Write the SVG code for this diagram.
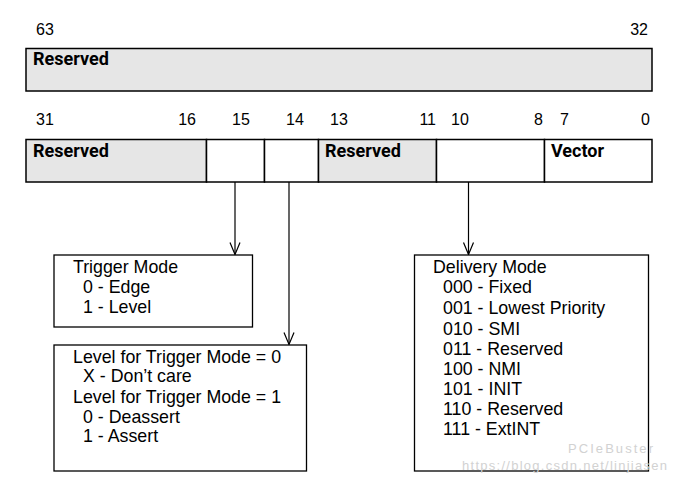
<svg xmlns="http://www.w3.org/2000/svg" width="674" height="482" viewBox="0 0 674 482">
<style>
.bg{fill:#ffffff}
.reg{stroke:#000;stroke-width:1.5}
.gray{fill:#e6e6e6}
.white{fill:#ffffff}
.num{font-family:"Liberation Sans",Arial,sans-serif;font-size:16px;fill:#000}
.lbl{font-family:Roboto,"Liberation Sans",sans-serif;font-weight:bold;font-size:18px;fill:#000}
.box{fill:#fff;stroke:#000;stroke-width:1.3}
.txt{font-family:"Liberation Sans",Arial,sans-serif;font-size:17.8px;fill:#000}
.conn{stroke:#000;stroke-width:1.2;fill:none;marker-end:url(#arr)}
.wm{font-family:"Liberation Sans",Arial,sans-serif;fill:#d2d2d2}
</style>
<defs>
<marker id="arr" markerWidth="14" markerHeight="16" refX="7" refY="14" orient="0" markerUnits="userSpaceOnUse">
<path d="M2,2 L7,14 L12,2" fill="none" stroke="#000" stroke-width="1.2"/>
</marker>
</defs>
<rect class="bg" x="0" y="0" width="674" height="482"/>

<g id="bits-high">
<text class="num" x="36" y="35">63</text>
<text class="num" x="648" y="35" text-anchor="end">32</text>
</g>
<g id="reg-high">
<rect class="gray reg" x="26" y="48.5" width="626" height="42.5"/>
<text class="lbl" x="33" y="65">Reserved</text>
</g>

<g id="bits-low">
<text class="num" x="36" y="125">31</text>
<text class="num" x="196" y="125" text-anchor="end">16</text>
<text class="num" x="232" y="125">15</text>
<text class="num" x="286" y="125">14</text>
<text class="num" x="330" y="125">13</text>
<text class="num" x="436" y="125" text-anchor="end">11</text>
<text class="num" x="451" y="125">10</text>
<text class="num" x="543" y="125" text-anchor="end">8</text>
<text class="num" x="560" y="125">7</text>
<text class="num" x="650" y="125" text-anchor="end">0</text>
</g>

<g id="field-reserved-31-16">
<rect class="gray reg" x="26" y="139.5" width="180.5" height="42.5"/>
<text class="lbl" x="33" y="157">Reserved</text>
</g>
<g id="field-15">
<rect class="white reg" x="206.5" y="139.5" width="58" height="42.5"/>
</g>
<g id="field-14">
<rect class="white reg" x="264.5" y="139.5" width="54" height="42.5"/>
</g>
<g id="field-reserved-13-11">
<rect class="gray reg" x="318.5" y="139.5" width="118" height="42.5"/>
<text class="lbl" x="325" y="157">Reserved</text>
</g>
<g id="field-10-8">
<rect class="white reg" x="436.5" y="139.5" width="108" height="42.5"/>
</g>
<g id="field-vector">
<rect class="white reg" x="544.5" y="139.5" width="107.5" height="42.5"/>
<text class="lbl" x="551" y="157">Vector</text>
</g>

<g id="connectors">
<line class="conn" x1="235" y1="182" x2="235" y2="254.5"/>
<line class="conn" x1="289" y1="182" x2="289" y2="344.5"/>
<line class="conn" x1="468.5" y1="182" x2="468.5" y2="254.5"/>
</g>

<g id="trigger-mode">
<rect class="box" x="54" y="255" width="198.5" height="72"/>
<text class="txt" x="73" y="273">Trigger Mode</text>
<text class="txt" x="83" y="293">0 - Edge</text>
<text class="txt" x="83" y="313">1 - Level</text>
</g>

<g id="level">
<rect class="box" x="54" y="345" width="252.5" height="126"/>
<text class="txt" x="73" y="363">Level for Trigger Mode = 0</text>
<text class="txt" x="83" y="382">X - Don’t care</text>
<text class="txt" x="73" y="403">Level for Trigger Mode = 1</text>
<text class="txt" x="83" y="423">0 - Deassert</text>
<text class="txt" x="83" y="442">1 - Assert</text>
</g>

<g id="delivery-mode">
<rect class="box" x="414.5" y="255" width="234" height="216"/>
<text class="txt" x="433" y="273">Delivery Mode</text>
<text class="txt" x="443" y="293">000 - Fixed</text>
<text class="txt" x="443" y="314">001 - Lowest Priority</text>
<text class="txt" x="443" y="335">010 - SMI</text>
<text class="txt" x="443" y="355">011 - Reserved</text>
<text class="txt" x="443" y="375">100 - NMI</text>
<text class="txt" x="443" y="395">101 - INIT</text>
<text class="txt" x="443" y="415">110 - Reserved</text>
<text class="txt" x="443" y="435">111 - ExtINT</text>
</g>

<g id="watermark">
<text class="wm" x="568" y="453" font-size="13" textLength="85">PCIeBuster</text>
<text class="wm" x="462" y="470" font-size="13" textLength="205">https://blog.csdn.net/linjiasen</text>
</g>
</svg>
